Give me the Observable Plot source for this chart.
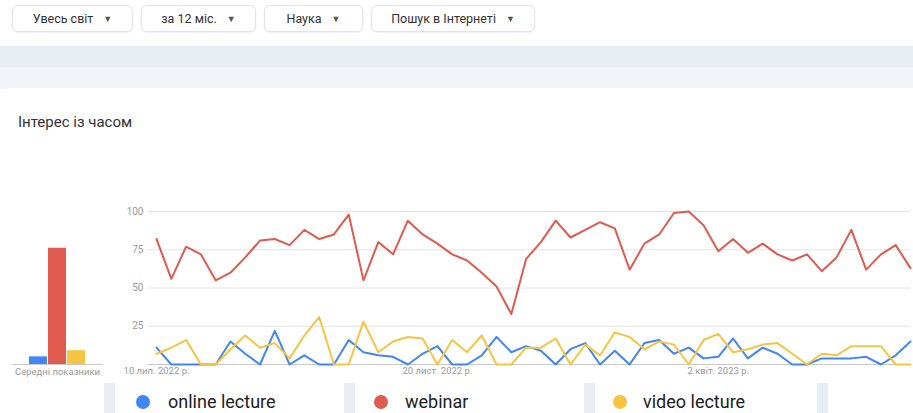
<!DOCTYPE html>
<html>
<head>
<meta charset="utf-8">
<script src="https://cdn.jsdelivr.net/npm/d3@7"></script>
<script src="https://cdn.jsdelivr.net/npm/@observablehq/plot@0.6"></script>
<style>
  html, body { margin: 0; padding: 0; }
  body { width: 913px; height: 413px; overflow: hidden; position: relative; background: #fff; font-family: Roboto, "Noto Sans", sans-serif; }
  .btn { position: absolute; top: 5px; height: 27px; border: 1px solid #e3e3e3; border-radius: 6px; box-shadow: 0 1px 2px rgba(0,0,0,0.06); background: #fff; font-size: 12.5px; color: #333; display: flex; align-items: center; justify-content: center; box-sizing: border-box; }
  .btn .arr { font-size: 9px; color: #555; margin-left: 10px; }
  .band1 { position: absolute; left: 0; right: 0; top: 46px; height: 21px; background: #e9edf4; }
  .band2 { position: absolute; left: 0; right: 0; top: 67px; height: 22px; background: #f0f3f8; }
  .card { position: absolute; left: 2px; right: 0; top: 88px; bottom: 0; background: #fff; border-radius: 8px 0 0 0; }
  .title { position: absolute; left: 18px; top: 113px; font-size: 15px; color: #333; }
  .abs { position: absolute; }
  .avg { position: absolute; left: 12px; width: 91px; top: 366px; text-align: center; font-size: 9.5px; color: #9a9a9a; white-space: nowrap; }
  .strip { position: absolute; top: 383px; height: 30px; width: 11px; background: #e8edf5; }
  .dot { position: absolute; width: 14px; height: 14px; border-radius: 50%; top: 395px; }
  .ltext { position: absolute; top: 390px; font-size: 18px; color: #202124; line-height: 24px; white-space: nowrap; }
</style>
</head>
<body>
<div class="btn" style="left:12px;width:121px;">Увесь світ<span class="arr">▼</span></div>
<div class="btn" style="left:141px;width:115px;">за 12 міс.<span class="arr">▼</span></div>
<div class="btn" style="left:264px;width:99px;">Наука<span class="arr">▼</span></div>
<div class="btn" style="left:371px;width:164px;">Пошук в Інтернеті<span class="arr">▼</span></div>
<div class="band1"></div>
<div class="band2"></div>
<div class="card"></div>
<div class="title">Інтерес із часом</div>
<div id="bars" class="abs" style="left:0;top:190px;"></div>
<div id="main" class="abs" style="left:0;top:190px;"></div>
<div class="avg">Середні показники</div>
<div id="legend"></div>
<script>
// ---- data ----
const seriesNames = ["online lecture", "webinar", "video lecture"];
const seriesColors = ["#4285f4", "#df5a4f", "#f5c542"];
const startWeek = [2022, 6, 10]; // 10 Jul 2022 (UTC, month 0-based)
const onlineLecture = [11,0,0,0,0,15,7,0,22,0,6,0,0,16,8,6,5,0,7,12,0,0,6,18,8,12,9,0,10,14,0,9,0,14,16,7,11,4,5,17,4,11,7,0,0,4,4,4,5,0,6,15];
const webinar = [82,56,77,72,55,60,70,81,82,78,88,82,85,98,55,80,72,94,85,79,72,68,60,51,33,69,80,94,83,88,93,89,62,79,85,99,100,91,74,82,73,79,72,68,72,61,70,88,62,72,78,63];
const videoLecture = [7,11,16,0,0,10,19,11,14,4,19,31,0,0,28,8,15,18,17,0,16,8,19,0,0,11,11,17,0,13,6,21,18,10,15,13,0,16,20,8,10,13,14,7,0,7,6,12,12,12,0,0];
const averages = [5, 76, 9];
const xTickIndex = [0, 19, 38];
const xTickLabels = ["10 лип. 2022 р.", "20 лист. 2022 р.", "2 квіт. 2023 р."];
const yTicks = [25, 50, 75, 100];

// ---- build tables ----
const weekDate = i => new Date(Date.UTC(startWeek[0], startWeek[1], startWeek[2] + 7 * i));
const valuesBySeries = [onlineLecture, webinar, videoLecture];
const rows = [];
valuesBySeries.forEach((vals, s) => vals.forEach((v, i) => rows.push({series: seriesNames[s], date: weekDate(i), value: v})));
const avgRows = seriesNames.map((s, i) => ({series: s, value: averages[i]}));
const tickDates = xTickIndex.map(weekDate);
const tickLabelMap = new Map(tickDates.map((d, i) => [+d, xTickLabels[i]]));
const colorScale = {domain: seriesNames, range: seriesColors};
const n = webinar.length;
const xDomain = [new Date(+weekDate(0) - 3.8 * 864e5), weekDate(n - 1)];

const main = Plot.plot({
  width: 913, height: 200,
  marginLeft: 148, marginRight: 3, marginTop: 21, marginBottom: 26,
  style: {fontFamily: "Roboto, sans-serif", fontSize: "10px", color: "#9a9a9a", background: "transparent", overflow: "visible"},
  x: {type: "utc", domain: xDomain, axis: null, label: null},
  y: {domain: [0, 100], axis: null, label: null},
  color: colorScale,
  marks: [
    Plot.ruleY(yTicks, {stroke: "#e4e4e4", strokeWidth: 1}),
    Plot.ruleY([0], {stroke: "#c9c9c9", strokeWidth: 1}),
    Plot.axisY({ticks: yTicks, tickSize: 0, tickPadding: 5, fill: "#9a9a9a", fontSize: 10, label: null}),
    Plot.axisX({ticks: tickDates, tickSize: 0, tickPadding: 3, tickFormat: d => tickLabelMap.get(+d), fill: "#9a9a9a", fontSize: 9.5, label: null}),
    Plot.line(rows.filter(r => r.series === seriesNames[0]), {x: "date", y: "value", stroke: "series", strokeWidth: 2}),
    Plot.line(rows.filter(r => r.series === seriesNames[1]), {x: "date", y: "value", stroke: "series", strokeWidth: 2}),
    Plot.line(rows.filter(r => r.series === seriesNames[2]), {x: "date", y: "value", stroke: "series", strokeWidth: 2})
  ]
});
document.getElementById("main").appendChild(main);

const bars = Plot.plot({
  width: 104, height: 200,
  marginLeft: 12, marginRight: 1, marginTop: 21, marginBottom: 26,
  style: {background: "transparent"},
  x: {type: "band", domain: seriesNames, range: [29, 86], paddingInner: 0.05, paddingOuter: 0, axis: null, label: null},
  y: {domain: [0, 100], axis: null, label: null},
  color: colorScale,
  marks: [
    Plot.barY(avgRows, {x: "series", y: "value", fill: "series"}),
    Plot.ruleY([0], {stroke: "#c9c9c9", strokeWidth: 1})
  ]
});
document.getElementById("bars").appendChild(bars);

// ---- legend ----
const legend = document.getElementById("legend");
const stripX = [104, 344, 584, 817];
stripX.forEach(x => { const d = document.createElement("div"); d.className = "strip"; d.style.left = x + "px"; legend.appendChild(d); });
const legendDotX = [136, 374, 613];
const legendTextX = [168, 405, 643];
seriesNames.forEach((s, i) => {
  const dot = document.createElement("div"); dot.className = "dot"; dot.style.left = legendDotX[i] + "px"; dot.style.background = seriesColors[i]; legend.appendChild(dot);
  const t = document.createElement("div"); t.className = "ltext"; t.style.left = legendTextX[i] + "px"; t.textContent = s; legend.appendChild(t);
});
</script>
</body>
</html>
